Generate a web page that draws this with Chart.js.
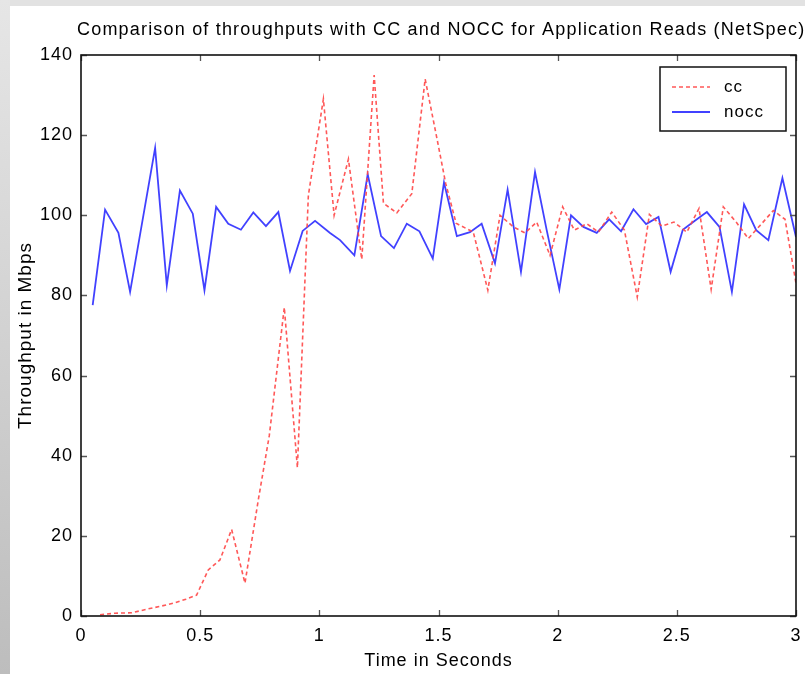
<!DOCTYPE html>
<html>
<head>
<meta charset="utf-8">
<script src="https://cdn.jsdelivr.net/npm/chart.js@4/dist/chart.umd.min.js"></script>
<style>
html,body{margin:0;padding:0;background:#fff;}
#c{display:block;}
</style>
</head>
<body>
<canvas id="c" width="805" height="674"></canvas>
<script>
const chartTitle = 'Comparison of throughputs with CC and NOCC for Application Reads (NetSpec)';
const xAxisTitle = 'Time in Seconds';
const yAxisTitle = 'Throughput in Mbps';
const seriesNames = ['cc', 'nocc'];

const ccTimes = [0.08,0.143,0.213,0.276,0.339,0.394,0.44,0.485,0.534,0.583,0.632,0.688,0.744,0.79,0.853,0.908,0.954,1.017,1.062,1.122,1.178,1.23,1.269,1.325,1.388,1.444,1.494,1.53,1.574,1.646,1.707,1.758,1.814,1.863,1.912,1.968,2.021,2.07,2.122,2.171,2.227,2.28,2.334,2.385,2.437,2.488,2.542,2.593,2.644,2.695,2.749,2.8,2.856,2.905,2.954,3.0];
const ccValues = [0.3,0.7,0.8,1.7,2.5,3.3,4.2,5.2,11.5,14.0,21.6,8.2,29,45,77,37,105,129,100,114,89,135,103,100.6,105.4,134,119,108,98,95.8,81.3,100,97.1,95.6,98.3,90,102.1,96.3,97.9,95.8,100.8,96.3,79.6,100.2,97.3,98.3,95.8,101.7,81.5,102.1,98.3,94.2,97.9,101.2,99,83];

const noccTimes = [0.049,0.101,0.157,0.206,0.311,0.36,0.415,0.469,0.518,0.567,0.618,0.671,0.723,0.776,0.828,0.877,0.93,0.982,1.045,1.087,1.147,1.203,1.259,1.313,1.367,1.42,1.476,1.523,1.577,1.632,1.681,1.737,1.79,1.846,1.905,1.954,2.007,2.056,2.108,2.164,2.216,2.266,2.318,2.371,2.423,2.474,2.525,2.577,2.626,2.679,2.731,2.782,2.833,2.884,2.943,3.0];
const noccValues = [77.6,101.4,95.6,80.9,116.8,82.5,106.2,100.4,81.3,102.1,97.9,96.4,100.7,97.3,100.8,86.1,96.1,98.6,95.6,93.8,90.0,110.2,94.8,91.8,97.9,96.0,89.2,108.2,94.8,95.8,97.9,88.0,106.4,85.9,110.8,96.3,81.5,100.0,97.1,95.6,99.0,96.0,101.5,97.8,99.6,85.9,96.4,98.7,100.8,97.1,80.9,102.7,96.3,93.8,109.3,94.6];

const xTickStep = 0.5;
const yTickStep = 20;

const FONT = "'Liberation Sans', Arial, sans-serif";

function pairs(xs, ys){ return xs.map((x,i)=>({x:x, y:ys[i]})); }

const bgPlugin = {
  id:'bg',
  beforeDraw(chart){
    const ctx = chart.ctx, W = chart.width, H = chart.height;
    ctx.save();
    ctx.fillStyle = '#e2e2e2';
    ctx.fillRect(0,0,W,H);
    const g = ctx.createLinearGradient(0,0,0,H);
    g.addColorStop(0,'#e6e6e6');
    g.addColorStop(1,'#bdbdbd');
    ctx.fillStyle = g;
    ctx.fillRect(0,0,10,H);
    ctx.fillStyle = '#ffffff';
    ctx.fillRect(10,6,W-10,H-6);
    ctx.restore();
    ctx.letterSpacing = '1px';
  }
};

const framePlugin = {
  id:'frame',
  afterDraw(chart){
    const ctx = chart.ctx, a = chart.chartArea;
    const xs = chart.scales.x, ys = chart.scales.y;
    ctx.save();
    ctx.strokeStyle = '#555';
    ctx.lineWidth = 1.3;
    const tl = 6;
    xs.ticks.forEach(t=>{
      const px = Math.round(xs.getPixelForValue(t.value))+0.5;
      ctx.beginPath();
      ctx.moveTo(px,a.bottom); ctx.lineTo(px,a.bottom-tl);
      ctx.moveTo(px,a.top); ctx.lineTo(px,a.top+tl);
      ctx.stroke();
    });
    ys.ticks.forEach(t=>{
      const py = Math.round(ys.getPixelForValue(t.value))+0.5;
      ctx.beginPath();
      ctx.moveTo(a.left,py); ctx.lineTo(a.left+tl,py);
      ctx.moveTo(a.right,py); ctx.lineTo(a.right-tl,py);
      ctx.stroke();
    });
    ctx.strokeStyle = '#111';
    ctx.lineWidth = 1.6;
    ctx.strokeRect(a.left, a.top, a.right-a.left, a.bottom-a.top);

    // title, fitted to the reference width
    ctx.fillStyle = '#000';
    ctx.font = "18px " + FONT;
    ctx.letterSpacing = '0px';
    const w0 = ctx.measureText(chartTitle).width;
    const target = 728;
    ctx.letterSpacing = ((target - w0) / chartTitle.length).toFixed(2) + 'px';
    ctx.textAlign = 'left';
    ctx.textBaseline = 'middle';
    ctx.fillText(chartTitle, 77, 30);
    ctx.letterSpacing = '1px';

    // legend
    const lx = 660, ly = 67, lw = 126, lh = 64;
    ctx.fillStyle = '#fff';
    ctx.fillRect(lx,ly,lw,lh);
    ctx.strokeStyle = '#111';
    ctx.lineWidth = 1.5;
    ctx.strokeRect(lx,ly,lw,lh);
    chart.data.datasets.forEach((ds,i)=>{
      const y = ly + 20 + i*25;
      ctx.beginPath();
      ctx.strokeStyle = ds.borderColor;
      ctx.lineWidth = ds.borderWidth;
      ctx.setLineDash(ds.borderDash || []);
      ctx.moveTo(lx+12,y); ctx.lineTo(lx+50,y);
      ctx.stroke();
      ctx.setLineDash([]);
      ctx.fillStyle = '#000';
      ctx.font = "17px " + FONT;
      ctx.textAlign = 'left';
      ctx.textBaseline = 'middle';
      ctx.fillText(ds.label, lx+64, y);
    });
    ctx.restore();
  }
};

const fmt = v => String(+Number(v).toFixed(2));

new Chart(document.getElementById('c'), {
  type:'line',
  data:{
    datasets:[
      { label: seriesNames[0], data: pairs(ccTimes, ccValues), borderColor:'rgba(255,70,70,0.9)', borderWidth:1.6, borderDash:[4,3], pointRadius:0, fill:false, tension:0 },
      { label: seriesNames[1], data: pairs(noccTimes, noccValues), borderColor:'rgba(55,55,255,0.95)', borderWidth:1.8, pointRadius:0, fill:false, tension:0 }
    ]
  },
  options:{
    responsive:false,
    animation:false,
    devicePixelRatio:1,
    layout:{ autoPadding:false, padding:{ top:55, right:9, left:0, bottom:0 } },
    plugins:{ legend:{display:false}, title:{display:false}, tooltip:{enabled:false} },
    scales:{
      x:{
        type:'linear', min:0, max:3,
        ticks:{ stepSize:xTickStep, color:'#000', padding:9, font:{family:FONT, size:18}, maxRotation:0, callback:fmt },
        grid:{ display:false, drawTicks:false },
        border:{ display:false },
        title:{ display:true, text:xAxisTitle, color:'#000', font:{family:FONT, size:18}, padding:{top:0,bottom:2} },
        afterFit(s){ s.height = 58; s.paddingLeft = 0; s.paddingRight = 0; }
      },
      y:{
        min:0, max:140,
        ticks:{ stepSize:yTickStep, color:'#000', padding:8, font:{family:FONT, size:18}, callback:fmt },
        grid:{ display:false, drawTicks:false },
        border:{ display:false },
        title:{ display:true, text:yAxisTitle, color:'#000', font:{family:FONT, size:19}, padding:{top:14,bottom:0} },
        afterFit(s){ s.width = 81; s.paddingTop = 0; s.paddingBottom = 0; }
      }
    }
  },
  plugins:[bgPlugin, framePlugin]
});
</script>
</body>
</html>
